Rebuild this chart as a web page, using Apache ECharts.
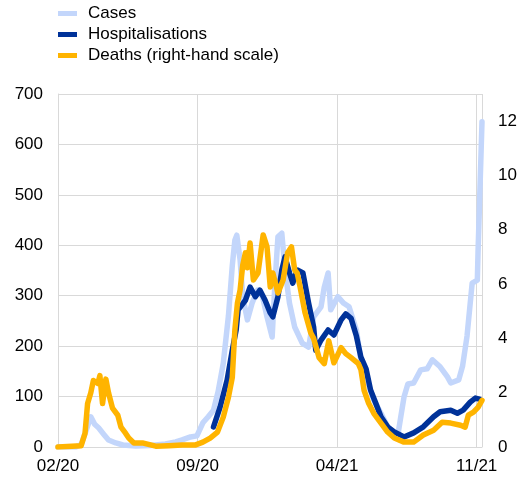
<!DOCTYPE html>
<html>
<head>
<meta charset="utf-8">
<script src="https://cdn.jsdelivr.net/npm/echarts@6/dist/echarts.min.js"></script>
<style>
html,body{margin:0;padding:0;background:#fff;}
#chart{width:520px;height:479px;}
</style>
</head>
<body>
<div id="chart"></div>
<script>
const tickLabels = ['02/20', '09/20', '04/21', '11/21'];
const seriesNames = ['Cases', 'Hospitalisations', 'Deaths (right-hand scale)'];
const lastDate = '2021-11-09';

const casesDates = ['2020-02-01','2020-02-27','2020-03-06','2020-03-13','2020-03-21','2020-03-27','2020-04-02','2020-04-10','2020-04-17','2020-04-28','2020-05-09','2020-05-29','2020-06-20','2020-07-13','2020-07-29','2020-08-08','2020-08-21','2020-08-31','2020-09-09','2020-09-17','2020-09-25','2020-10-02','2020-10-10','2020-10-18','2020-10-24','2020-10-28','2020-10-31','2020-11-05','2020-11-09','2020-11-16','2020-11-23','2020-12-01','2020-12-09','2020-12-16','2020-12-24','2020-12-28','2021-01-02','2021-01-08','2021-01-13','2021-01-20','2021-01-28','2021-02-08','2021-02-17','2021-02-24','2021-03-07','2021-03-12','2021-03-18','2021-03-22','2021-04-02','2021-04-11','2021-04-19','2021-04-30','2021-05-07','2021-05-18','2021-05-27','2021-06-07','2021-06-17','2021-06-27','2021-07-03','2021-07-07','2021-07-12','2021-07-18','2021-07-27','2021-08-07','2021-08-17','2021-08-25','2021-09-06','2021-09-17','2021-09-22','2021-10-04','2021-10-10','2021-10-17','2021-10-25','2021-11-02','2021-11-03','2021-11-09'];
const casesValues = [0,0,5,30,60,45,38,25,14,8,4,2,3,6,10,14,20,22,48,60,73,110,166,260,360,410,420,371,298,252,285,311,298,258,218,317,417,424,351,285,238,206,198,258,278,317,345,272,298,285,278,232,172,127,93,67,40,28,28,60,99,125,127,153,155,173,159,139,127,133,160,220,325,331,385,645];

const hospDates = ['2020-09-25','2020-10-05','2020-10-16','2020-10-24','2020-10-30','2020-11-02','2020-11-13','2020-11-20','2020-11-28','2020-12-05','2020-12-13','2020-12-21','2020-12-25','2021-01-02','2021-01-08','2021-01-13','2021-01-20','2021-01-25','2021-02-01','2021-02-09','2021-02-17','2021-02-24','2021-02-27','2021-03-07','2021-03-18','2021-03-27','2021-04-07','2021-04-14','2021-04-22','2021-04-30','2021-05-07','2021-05-15','2021-05-22','2021-05-30','2021-06-07','2021-06-17','2021-06-27','2021-07-12','2021-07-27','2021-08-11','2021-08-27','2021-09-06','2021-09-22','2021-10-02','2021-10-11','2021-10-22','2021-10-30','2021-11-05'];
const hospValues = [40,79,133,192,232,272,291,317,298,311,291,266,258,298,351,377,345,325,351,345,285,238,192,212,232,222,252,264,255,220,178,155,113,87,60,40,30,20,28,40,60,70,73,67,73,89,97,95];

const deathsDates = ['2020-02-01','2020-03-06','2020-03-12','2020-03-16','2020-03-21','2020-03-25','2020-04-01','2020-04-04','2020-04-08','2020-04-13','2020-04-17','2020-04-23','2020-05-01','2020-05-06','2020-05-13','2020-05-18','2020-05-26','2020-06-08','2020-06-28','2020-07-18','2020-08-08','2020-08-28','2020-09-09','2020-09-20','2020-10-01','2020-10-10','2020-10-18','2020-10-24','2020-10-28','2020-11-01','2020-11-05','2020-11-09','2020-11-13','2020-11-16','2020-11-20','2020-11-25','2020-12-02','2020-12-10','2020-12-16','2020-12-21','2020-12-25','2021-01-02','2021-01-10','2021-01-17','2021-01-23','2021-01-28','2021-02-01','2021-02-05','2021-02-12','2021-02-20','2021-02-24','2021-03-04','2021-03-12','2021-03-19','2021-03-27','2021-04-07','2021-04-14','2021-04-22','2021-05-03','2021-05-07','2021-05-12','2021-05-19','2021-05-27','2021-06-07','2021-06-17','2021-06-27','2021-07-12','2021-07-27','2021-08-11','2021-08-27','2021-09-09','2021-09-22','2021-10-07','2021-10-14','2021-10-19','2021-10-27','2021-11-03','2021-11-09'];
const deathsValues = [0,0.05,0.5,1.6,2.0,2.45,2.34,2.63,1.6,2.5,2.0,1.43,1.17,0.73,0.51,0.33,0.15,0.15,0.03,0.05,0.07,0.07,0.18,0.33,0.55,1.1,1.83,2.56,4.31,5.3,5.78,6.7,7.15,6.6,7.51,6.15,6.41,7.81,7.37,5.89,6.41,5.67,6.15,7.15,7.37,6.52,6.4,5.89,4.94,4.2,4.0,3.29,3.07,3.91,3.1,3.66,3.44,3.29,3.07,2.85,2.08,1.61,1.24,0.88,0.55,0.33,0.18,0.18,0.44,0.62,0.91,0.88,0.8,0.73,1.17,1.28,1.46,1.72];

function toM(s) {
  const p = s.split('-').map(Number);
  const dim = new Date(p[0], p[1], 0).getDate();
  return (p[0] - 2020) * 12 + (p[1] - 2) + (p[2] - 1) / dim;
}
function pairs(dates, vals) { return dates.map((d, i) => [toM(d), vals[i]]); }

const FONT = "'Liberation Sans', Arial, sans-serif";
const GRID = '#d9d9d9';
const LW = 5.5;
const chart = echarts.init(document.getElementById('chart'), null, {renderer: 'canvas'});
const lineBase = {type: 'line', showSymbol: false, symbol: 'none', animation: false, smooth: false};

chart.setOption({
  animation: false,
  textStyle: {fontFamily: FONT},
  grid: {left: 58, right: 38, top: 94, bottom: 32, containLabel: false},
  legend: {
    orient: 'vertical', left: 58, top: 5, itemGap: 4, padding: 0,
    itemWidth: 19, itemHeight: 5, icon: 'rect',
    textStyle: {fontFamily: FONT, fontSize: 17, color: '#000', padding: [0, 0, 0, 6]},
    data: seriesNames
  },
  xAxis: {
    type: 'value', min: 0, max: toM(lastDate), interval: 7,
    axisLine: {show: true, lineStyle: {color: GRID}},
    axisTick: {show: false},
    splitLine: {show: true, lineStyle: {color: GRID, width: 1}},
    axisLabel: {
      fontFamily: FONT, fontSize: 17, color: '#000', margin: 11, showMaxLabel: true,
      formatter: function (v) {
        const k = Math.round(v);
        if (Math.abs(v - k) < 1e-6 && k % 7 === 0) return tickLabels[k / 7] || '';
        return '';
      }
    }
  },
  yAxis: [
    {
      type: 'value', min: 0, max: 700, interval: 100,
      axisLine: {show: true, lineStyle: {color: GRID}},
      axisTick: {show: false},
      splitLine: {show: true, lineStyle: {color: GRID, width: 1}},
      axisLabel: {fontFamily: FONT, fontSize: 17, color: '#000', margin: 15}
    },
    {
      type: 'value', min: 0, max: 13, interval: 2, position: 'right',
      axisLine: {show: false},
      axisTick: {show: false},
      splitLine: {show: false},
      axisLabel: {
        fontFamily: FONT, fontSize: 17, color: '#000', margin: 16, showMaxLabel: false,
        formatter: function (v) { return (v % 2 === 0) ? String(v) : ''; }
      }
    }
  ],
  series: [
    Object.assign({}, lineBase, {
      name: seriesNames[0], yAxisIndex: 0, z: 2,
      itemStyle: {color: '#c3d6fb'},
      lineStyle: {color: '#c3d6fb', width: LW, cap: 'round', join: 'round'},
      data: pairs(casesDates, casesValues)
    }),
    Object.assign({}, lineBase, {
      name: seriesNames[1], yAxisIndex: 0, z: 3,
      itemStyle: {color: '#003299'},
      lineStyle: {color: '#003299', width: LW, cap: 'round', join: 'round'},
      data: pairs(hospDates, hospValues)
    }),
    Object.assign({}, lineBase, {
      name: seriesNames[2], yAxisIndex: 1, z: 4,
      itemStyle: {color: '#ffb400'},
      lineStyle: {color: '#ffb400', width: LW, cap: 'round', join: 'round'},
      data: pairs(deathsDates, deathsValues)
    })
  ]
});
</script>
</body>
</html>
